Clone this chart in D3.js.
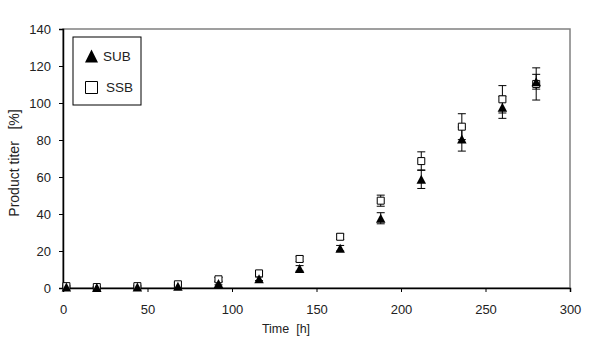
<!DOCTYPE html>
<html lang="en">
<head>
    <meta charset="UTF-8">
    <title>Product titer vs time</title>
    <script src="https://d3js.org/d3.v7.min.js"></script>
    <style>
        body { margin: 0; background: #fff; }
        svg { font-family: "Liberation Sans", Arial, sans-serif; }
        .tick text { font-size: 13px; fill: #222; }
    </style>
</head>
<body>
    <svg id="chart" width="600" height="343"></svg>

    <script>
        // Data
        const times = [2, 20, 44, 68, 92, 116, 140, 164, 188, 212, 236, 260, 280];
        const subValues = [0.5, 0.3, 0.5, 1, 2.5, 5, 10.6, 21.5, 37.7, 58.8, 80.5, 97.7, 111.5];
        const subErrors = [0.5, 0.3, 0.5, 0.8, 0.8, 1, 1.5, 1.5, 3, 5, 6.5, 6, 4];
        const ssbValues = [1, 0.5, 1, 2, 4.7, 7.9, 15.7, 27.7, 47.2, 68.6, 87.2, 102, 110.3];
        const ssbErrors = [0.5, 0.3, 0.5, 0.8, 1, 1, 1.5, 1.5, 3, 5, 7, 7.4, 8.7];
        const xTicks = [0, 50, 100, 150, 200, 250, 300];
        const yTicks = [0, 20, 40, 60, 80, 100, 120, 140];

        const plotLeft = 63, plotRight = 570, plotTop = 29, plotBottom = 288;
        const svg = d3.select("#chart");

        const x = d3.scaleLinear().domain([0, 300]).range([plotLeft, plotRight]);
        const y = d3.scaleLinear().domain([0, 140]).range([plotBottom, plotTop]);

        // plot frame (top & right grey)
        svg.append("rect")
            .attr("x", plotLeft).attr("y", plotTop)
            .attr("width", plotRight - plotLeft).attr("height", plotBottom - plotTop)
            .attr("fill", "none").attr("stroke", "#808080").attr("stroke-width", 1.5);

        // axes
        const xAxis = svg.append("g")
            .attr("transform", `translate(0,${plotBottom})`)
            .call(d3.axisBottom(x).tickValues(xTicks).tickSize(4).tickPadding(13));
        const yAxis = svg.append("g")
            .attr("transform", `translate(${plotLeft},0)`)
            .call(d3.axisLeft(y).tickValues(yTicks).tickSize(4).tickPadding(8));
        [xAxis, yAxis].forEach(g => {
            g.select(".domain").attr("stroke", "#000").attr("stroke-width", 1.5);
            g.selectAll(".tick line").attr("stroke", "#000");
        });

        // axis titles
        svg.append("text")
            .attr("x", 286).attr("y", 333)
            .attr("text-anchor", "middle")
            .attr("font-size", 12.5).attr("fill", "#222")
            .attr("xml:space", "preserve")
            .text("Time  [h]");
        svg.append("text")
            .attr("transform", "translate(19,163) rotate(-90)")
            .attr("text-anchor", "middle")
            .attr("font-size", 14).attr("fill", "#222")
            .attr("xml:space", "preserve")
            .text("Product titer   [%]");

        const ssb = times.map((t, i) => ({ t, v: ssbValues[i], e: ssbErrors[i] }));
        const sub = times.map((t, i) => ({ t, v: subValues[i], e: subErrors[i] }));

        function errorBars(data) {
            const g = svg.append("g").attr("stroke", "#000").attr("stroke-width", 1);
            data.forEach(d => {
                const cx = x(d.t);
                g.append("line").attr("x1", cx).attr("x2", cx)
                    .attr("y1", y(d.v - d.e)).attr("y2", y(d.v + d.e));
                [d.v - d.e, d.v + d.e].forEach(val => {
                    g.append("line").attr("x1", cx - 4).attr("x2", cx + 4)
                        .attr("y1", y(val)).attr("y2", y(val));
                });
            });
        }

        errorBars(ssb);
        errorBars(sub);

        // marker shapes
        const triPath = (w, h) => `M0,${-h / 2}L${w / 2},${h / 2}L${-w / 2},${h / 2}Z`;
        const sqPath = s => `M${-s / 2},${-s / 2}h${s}v${s}h${-s}Z`;

        svg.append("g").selectAll("path")
            .data(ssb).enter().append("path")
            .attr("d", sqPath(7))
            .attr("transform", d => `translate(${x(d.t)},${y(d.v)})`)
            .attr("fill", "#fff").attr("stroke", "#000").attr("stroke-width", 1);

        svg.append("g").selectAll("path")
            .data(sub).enter().append("path")
            .attr("d", triPath(9.5, 9))
            .attr("transform", d => `translate(${x(d.t)},${y(d.v)})`)
            .attr("fill", "#000");

        // legend
        const legend = svg.append("g");
        legend.append("rect")
            .attr("x", 73).attr("y", 37).attr("width", 68).attr("height", 68)
            .attr("fill", "#fff").attr("stroke", "#000").attr("stroke-width", 1);
        legend.append("path")
            .attr("d", triPath(13, 13))
            .attr("transform", "translate(91.5,56)")
            .attr("fill", "#000");
        legend.append("text").attr("x", 103).attr("y", 61)
            .attr("font-size", 13.5).attr("fill", "#222").text("SUB");
        legend.append("path")
            .attr("d", sqPath(12))
            .attr("transform", "translate(91.5,87.5)")
            .attr("fill", "#fff").attr("stroke", "#000");
        legend.append("text").attr("x", 106).attr("y", 92)
            .attr("font-size", 13.5).attr("fill", "#222").text("SSB");
    </script>
</body>
</html>
